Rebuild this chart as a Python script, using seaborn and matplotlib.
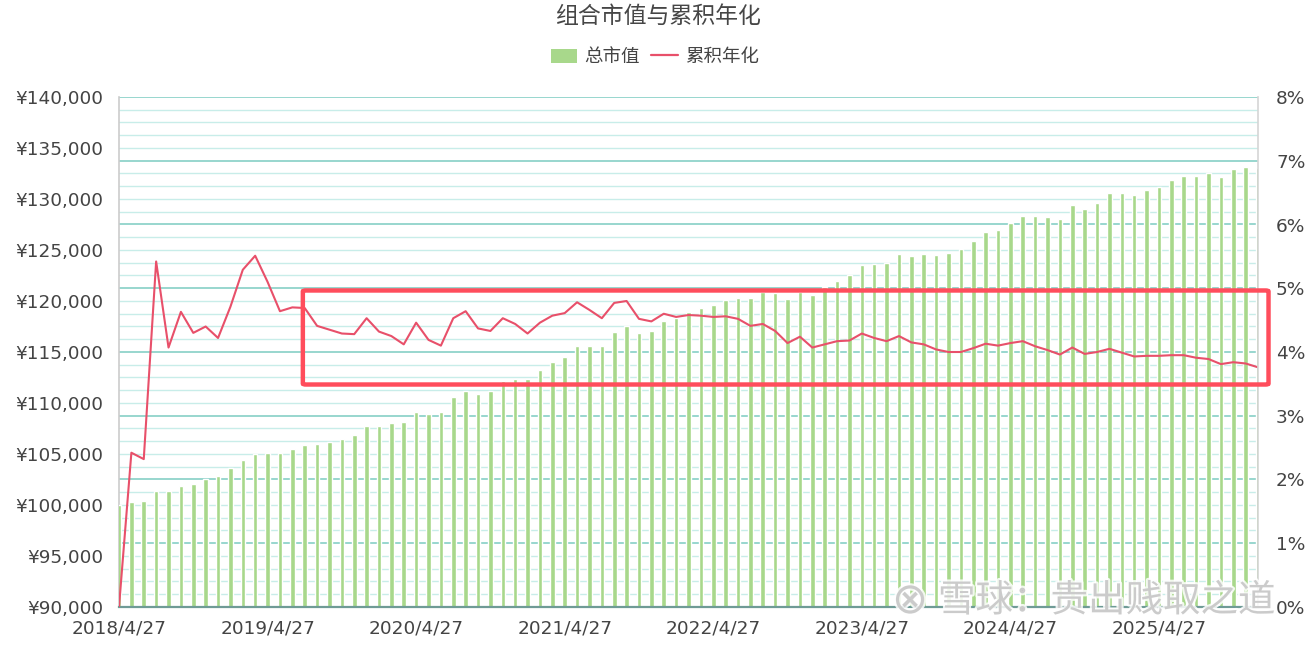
import matplotlib
matplotlib.use("Agg")
import matplotlib.pyplot as plt
import matplotlib.patheffects as pe
from matplotlib.patches import Patch, FancyBboxPatch
from matplotlib.lines import Line2D
import numpy as np
import pandas as pd
import seaborn as sns

# monthly points, 2018/4/27 .. 2025/12/27
market_value = [
    100000, 100300, 100400, 101400, 101400, 101900, 102100, 102500, 102800, 103600,
    104400, 105000, 105100, 105100, 105500, 105900, 106000, 106200, 106500, 106900,
    107700, 107700, 108000, 108100, 109150, 108900, 109150, 110600, 111200, 110900,
    111200, 112200, 112400, 112400, 113200, 114000, 114500, 115600, 115600, 115550,
    117000, 117550, 116850, 117100, 118050, 118300, 118900, 119300, 119600, 120100,
    120300, 120250, 120900, 120800, 120200, 120900, 120600, 121350, 122000, 122500,
    123500, 123600, 123700, 124600, 124400, 124600, 124500, 124700, 125050, 125900,
    126750, 126950, 127600, 128350, 128350, 128250, 128050, 129400, 129000, 129600,
    130600, 130550, 130350, 130900, 131200, 131850, 132250, 132300, 132500, 132150,
    132900, 133100, 133000,
]
annual_rate = [
    0.00, 2.42, 2.32, 5.42, 4.07, 4.63, 4.30, 4.40, 4.22, 4.71,
    5.29, 5.51, 5.10, 4.64, 4.70, 4.69, 4.41, 4.35, 4.29, 4.28,
    4.53, 4.32, 4.25, 4.12, 4.46, 4.19, 4.10, 4.53, 4.64, 4.37,
    4.33, 4.53, 4.44, 4.29, 4.46, 4.57, 4.61, 4.78, 4.66, 4.53,
    4.77, 4.80, 4.52, 4.48, 4.60, 4.55, 4.58, 4.57, 4.55, 4.56,
    4.52, 4.41, 4.44, 4.33, 4.14, 4.24, 4.07, 4.12, 4.17, 4.18,
    4.29, 4.22, 4.17, 4.25, 4.15, 4.12, 4.04, 4.00, 4.00, 4.06,
    4.13, 4.10, 4.14, 4.17, 4.09, 4.03, 3.96, 4.07, 3.97, 4.00,
    4.05, 3.99, 3.93, 3.94, 3.94, 3.95, 3.95, 3.91, 3.89, 3.81,
    3.84, 3.82, 3.76,
]
tick_labels = ["2018/4/27", "2019/4/27", "2020/4/27", "2021/4/27",
               "2022/4/27", "2023/4/27", "2024/4/27", "2025/4/27"]

df = pd.DataFrame({"month": range(len(market_value)),
                   "value": market_value, "rate": annual_rate})

GREEN = "#a8d88b"
RED = "#e8506a"
BOX_RED = "#ff4d5c"
TEXT = "#444444"

sns.set_theme(style="white")
plt.rcParams["font.family"] = ["Noto Sans CJK SC", "DejaVu Sans"]

fig = plt.figure(figsize=(13.16, 6.48), dpi=100)
ax = fig.add_axes([119 / 1316, 1 - 607 / 648, (1258 - 119) / 1316, (607 - 97) / 648])
ax2 = ax.twinx()

# bars
sns.barplot(data=df, x="month", y="value", native_scale=True, width=0.37,
            color=GREEN, saturation=1, errorbar=None, ax=ax, zorder=3)
ax.set_ylim(90000, 140000)
ax.set_xlim(0, len(market_value) - 1)

# grid follows the right axis (major 1%, minor 0.2%), drawn under the bars
for k, p in enumerate(np.arange(0, 8.01, 0.2)):
    lv = 90000 + p * 6250
    major = k % 5 == 0
    ax.axhline(lv, color="#86d0c6" if major else "#c8ede9",
               lw=1.2 if major else 1.0, zorder=1)

# line
sns.lineplot(data=df, x="month", y="rate", ax=ax2, color=RED, linewidth=1.5)
ax2.set_ylim(0, 8)
ax2.set_xlim(0, len(market_value) - 1)

ax.set_yticks(np.arange(90000, 140001, 5000))
ax.set_yticklabels([f"¥{v:,}" for v in range(90000, 140001, 5000)])
ax2.set_yticks(range(0, 9))
ax2.set_yticklabels([f"{v}%" for v in range(0, 9)])
ax.set_xticks(range(0, len(market_value), 12))
ax.set_xticklabels(tick_labels)

for a in (ax, ax2):
    a.set_xlabel("")
    a.set_ylabel("")
    a.grid(False)
    a.tick_params(length=0, labelsize=13.3, colors=TEXT)
    for lab in a.get_xticklabels() + a.get_yticklabels():
        lab.set_family("DejaVu Sans")
ax.tick_params(axis="y", pad=11)
ax.tick_params(axis="x", pad=9)
ax2.tick_params(axis="y", pad=13)

for a in (ax, ax2):
    for s in a.spines.values():
        s.set_visible(False)
ax.spines["left"].set_visible(True)
ax.spines["left"].set_color("#cccccc")
ax.spines["left"].set_linewidth(1.2)
ax2.spines["right"].set_visible(True)
ax2.spines["right"].set_color("#d5d5d5")
ax2.spines["right"].set_linewidth(1.2)
ax.spines["bottom"].set_visible(True)
ax.spines["bottom"].set_color("#6f9b96")
ax.spines["bottom"].set_linewidth(1.6)
ax.spines["bottom"].set_zorder(4)

# highlight box
box = FancyBboxPatch((14.85, 3.49), 92.85 - 14.85, 4.965 - 3.49,
                     boxstyle="round,pad=0,rounding_size=0.25",
                     fill=False, edgecolor=BOX_RED, linewidth=3.2,
                     clip_on=False, zorder=10, mutation_aspect=0.06)
ax2.add_patch(box)

# title and legend
fig.text(0.5, 1 - 16 / 648, "组合市值与累积年化", ha="center", va="center",
         fontsize=16.5, color="#464646")
handles = [Patch(facecolor=GREEN, edgecolor="none"),
           Line2D([0], [0], color=RED, lw=1.6)]
fig.legend(handles, ["总市值", "累积年化"], loc="center",
           bbox_to_anchor=(655 / 1316, 1 - 57 / 648), ncol=2, frameon=False,
           fontsize=13.3, handlelength=1.45, handleheight=0.8,
           columnspacing=0.6, handletextpad=0.4, labelcolor=TEXT)

# watermark
wm = [pe.withStroke(linewidth=3, foreground="white")]
fig.text(910 / 1316, 1 - 601 / 648, "⊗", ha="center", va="center",
         fontsize=31, color="#c4c4c4", alpha=0.85, family="DejaVu Sans",
         path_effects=wm, zorder=20)
fig.text(938 / 1316, 1 - 601 / 648, "雪球：贵出贱取之道", ha="left", va="center",
         fontsize=27, color="#c4c4c4", alpha=0.85, path_effects=wm, zorder=20)

fig.savefig("out.png", dpi=100)
